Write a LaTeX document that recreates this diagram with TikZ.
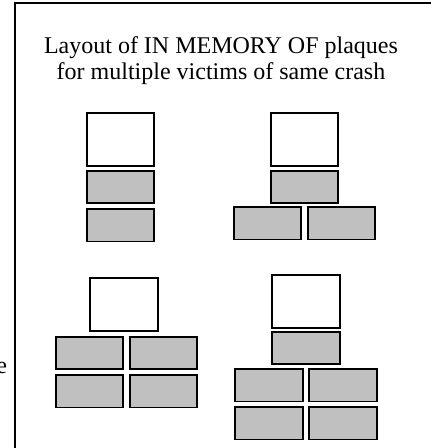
\documentclass[tikz,border=0pt]{standalone}
\usepackage{fontspec}
\setmainfont{Liberation Serif}
\usepackage{tikz}
\usetikzlibrary{positioning}
\definecolor{plaquegray}{HTML}{C0C0C0}

\begin{document}
\begin{tikzpicture}[x=1pt,y=-1pt,node distance=3pt]
\tikzstyle{blank}=[draw,line width=1.7pt,fill=white,minimum width=67.5pt,minimum height=53pt]
  	\tikzstyle{plate}=[draw,line width=1.7pt,fill=plaquegray,minimum width=67.5pt,minimum height=32.5pt]
  	\tikzstyle{every node}=[font=\fontsize{24}{26}\selectfont]
\useasboundingbox (0,0) rectangle (431,448);
\draw[line width=1.4pt] (15,460) -- (15,3) -- (440,3);

\node[align=center] (title) at (221,61) {Layout of IN MEMORY OF plaques\\for multiple victims of same crash};
\node[anchor=base east] (cut) at (10.5,373) {e};

% one victim
\node[blank] (w1) at (120.5,139.5) {};
\node[plate,below=of w1] (p1a) {};
\node[plate,below=4pt of p1a] (p1b) {};

% two victims
\node[blank] (w2) at (304.5,139.5) {};
\node[plate,below=of w2] (p2a) {};
\node[plate,below=2pt of p2a,xshift=-37pt] (p2b) {};
\node[plate,below=2pt of p2a,xshift=37pt] (p2c) {};

% three victims
\node[blank] (w3) at (124,304.5) {};
\node[plate,below=4pt of w3,xshift=-34.5pt] (p3a) {};
\node[plate,below=4pt of w3,xshift=39.5pt] (p3b) {};
\node[plate,below=4pt of p3a] (p3c) {};
\node[plate,below=4pt of p3b] (p3d) {};

% four victims
\node[blank] (w4) at (306,301.5) {};
\node[plate,below=2pt of w4] (p4a) {};
\node[plate,below=of p4a,xshift=-37pt] (p4b) {};
\node[plate,below=of p4a,xshift=37pt] (p4c) {};
\node[plate,below=4pt of p4b] (p4d) {};
\node[plate,below=4pt of p4c] (p4e) {};

	\end{tikzpicture}
\end{document}
